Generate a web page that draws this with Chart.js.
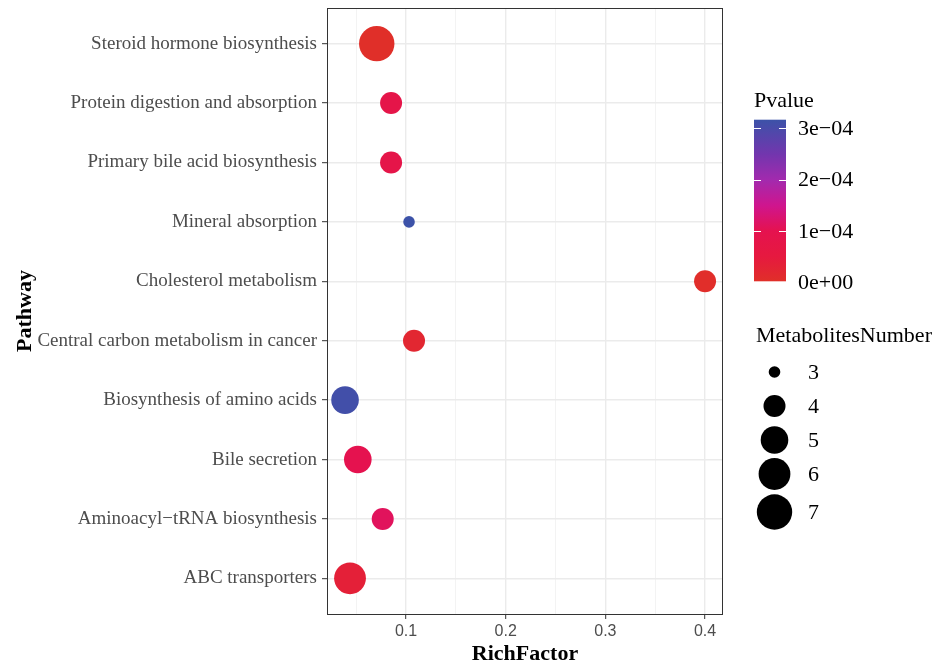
<!DOCTYPE html>
<html>
<head>
<meta charset="utf-8">
<script src="https://cdn.jsdelivr.net/npm/chart.js@4.4.0/dist/chart.umd.min.js"></script>
<style>
  html, body { margin: 0; padding: 0; background: #fff; }
  #wrap { width: 940px; height: 666px; }
</style>
</head>
<body>
<div id="wrap"><canvas id="chart" width="940" height="666"></canvas></div>
<script>
// Dados (de baixo para cima)
const pathways = [
  "ABC transporters",
  "Aminoacyl\u2212tRNA biosynthesis",
  "Bile secretion",
  "Biosynthesis of amino acids",
  "Central carbon metabolism in cancer",
  "Cholesterol metabolism",
  "Mineral absorption",
  "Primary bile acid biosynthesis",
  "Protein digestion and absorption",
  "Steroid hormone biosynthesis"
];
const richFactor = [0.0438, 0.0766, 0.0516, 0.0388, 0.108, 0.400, 0.103, 0.085, 0.085, 0.0706];
const metabolitesNumber = [6, 4, 5, 5, 4, 4, 3, 4, 4, 7];
const pvalue = [0.35e-4, 1.1e-4, 1.0e-4, 3.1e-4, 0.2e-4, 0.05e-4, 3.17e-4, 0.8e-4, 0.8e-4, 0.02e-4];

const xTicks = [0.05, 0.1, 0.15, 0.2, 0.25, 0.3, 0.35, 0.4];
const pTicks = [0, 1e-4, 2e-4, 3e-4];
const pTickLabels = ["0e+00", "1e\u221204", "2e\u221204", "3e\u221204"];
const sizeBreaks = [3, 4, 5, 6, 7];

// Escala de cor do Pvalue
const pStops = [0, 0.5e-4, 1e-4, 1.5e-4, 2e-4, 2.5e-4, 3.17e-4];
const pColors = ["#E03028", "#E6193F", "#E5124F", "#CF158E", "#A22AAE", "#7236AE", "#3C52A8"];
const pMax = 3.17e-4;

// Escala de tamanho
const sizeRadius = { 3: 5.8, 4: 11, 5: 13.8, 6: 15.9, 7: 17.7 };

function hexToRgb(h) {
  const n = parseInt(h.slice(1), 16);
  return [(n >> 16) & 255, (n >> 8) & 255, n & 255];
}

function pColor(v) {
  for (let i = 0; i < pStops.length - 1; i++) {
    if (v <= pStops[i + 1]) {
      const t = (v - pStops[i]) / (pStops[i + 1] - pStops[i]);
      const a = hexToRgb(pColors[i]), b = hexToRgb(pColors[i + 1]);
      const c = a.map((x, k) => Math.round(x + (b[k] - x) * t));
      return `rgb(${c[0]},${c[1]},${c[2]})`;
    }
  }
  return pColors[pColors.length - 1];
}

const isMajor = v => Math.abs(v * 10 - Math.round(v * 10)) < 1e-6;

const points = pathways.map((p, i) => ({
  x: richFactor[i],
  y: i + 1,
  r: sizeRadius[metabolitesNumber[i]]
}));

// Borda do painel
const panelBorder = {
  id: "panelBorder",
  afterDraw(chart) {
    const { ctx, chartArea: a } = chart;
    ctx.save();
    ctx.strokeStyle = "#333333";
    ctx.lineWidth = 1;
    ctx.strokeRect(a.left + 0.5, a.top + 0.5, a.right - a.left - 1, a.bottom - a.top);
    ctx.restore();
  }
};

// Legendas
const legends = {
  id: "legends",
  afterDraw(chart) {
    const ctx = chart.ctx;
    ctx.save();
    ctx.fillStyle = "#000";
    ctx.font = "22px 'Liberation Serif'";
    ctx.textBaseline = "alphabetic";
    ctx.textAlign = "left";
    ctx.fillText("Pvalue", 754, 107);

    // barra de cor
    const barL = 754, barR = 786, barTop = 119.7, barBot = 282.3;
    const yOf = v => barBot - (v / pMax) * (barBot - barTop);
    const g = ctx.createLinearGradient(0, barBot, 0, barTop);
    pStops.forEach((s, i) => g.addColorStop(s / pMax, pColors[i]));
    ctx.fillStyle = g;
    ctx.fillRect(barL, barTop, barR - barL, barBot - barTop - 1);

    ctx.strokeStyle = "#fff";
    ctx.lineWidth = 1;
    ctx.textBaseline = "middle";
    ctx.fillStyle = "#000";
    pTicks.forEach((v, i) => {
      const y = Math.round(yOf(v)) + 0.5;
      ctx.beginPath();
      ctx.moveTo(barL, y); ctx.lineTo(barL + 7, y);
      ctx.moveTo(barR - 7, y); ctx.lineTo(barR, y);
      ctx.stroke();
      ctx.fillText(pTickLabels[i], 798, yOf(v) + 1);
    });

    // tamanhos
    ctx.textBaseline = "alphabetic";
    ctx.fillText("MetabolitesNumber", 756, 342);
    const rowY = [372, 406, 440, 474, 512];
    ctx.textBaseline = "middle";
    sizeBreaks.forEach((s, i) => {
      ctx.fillStyle = "#000";
      ctx.beginPath();
      ctx.arc(774.5, rowY[i], sizeRadius[s], 0, Math.PI * 2);
      ctx.fill();
      ctx.fillText(String(s), 808, rowY[i] + 1);
    });
    ctx.restore();
  }
};

const ctx = document.getElementById("chart").getContext("2d");

new Chart(ctx, {
  type: "bubble",
  data: {
    datasets: [{
      data: points,
      backgroundColor: pvalue.map(pColor),
      borderWidth: 0,
      hoverBorderWidth: 0,
      hoverRadius: 0,
      clip: false
    }]
  },
  options: {
    responsive: false,
    animation: false,
    events: [],
    layout: { autoPadding: false, padding: { top: 8, right: 217, bottom: 0, left: 0 } },
    plugins: {
      legend: { display: false },
      tooltip: { enabled: false }
    },
    scales: {
      x: {
        type: "linear",
        min: 0.0207,
        max: 0.418,
        afterBuildTicks: s => { s.ticks = xTicks.map(v => ({ value: v })); },
        afterFit: s => { s.height = 52; s.paddingLeft = 0; s.paddingRight = 0; },
        border: { display: false },
        grid: {
          color: c => isMajor(c.tick.value) ? "#EBEBEB" : "#F2F2F2",
          lineWidth: c => isMajor(c.tick.value) ? 1.4 : 0.9,
          tickColor: c => isMajor(c.tick.value) ? "#333333" : "rgba(0,0,0,0)",
          tickLength: 5,
          tickWidth: 1
        },
        ticks: {
          autoSkip: false,
          maxRotation: 0,
          padding: 3,
          color: "#4D4D4D",
          font: { family: "'Liberation Sans'", size: 16 },
          callback: v => isMajor(v) ? v.toFixed(1) : ""
        },
        title: {
          display: true,
          text: "RichFactor",
          color: "#000",
          font: { family: "'Liberation Serif'", size: 22, weight: "bold", lineHeight: 1 },
          padding: { top: 0, bottom: 1 }
        }
      },
      y: {
        type: "linear",
        min: 0.4,
        max: 10.6,
        afterBuildTicks: s => { s.ticks = pathways.map((p, i) => ({ value: i + 1 })); },
        afterFit: s => { s.width = 327; s.paddingTop = 0; s.paddingBottom = 0; },
        border: { display: false },
        grid: {
          color: "#EBEBEB",
          lineWidth: 1.4,
          tickColor: "#333333",
          tickLength: 5,
          tickWidth: 1
        },
        ticks: {
          autoSkip: false,
          padding: 5,
          color: "#4D4D4D",
          font: { family: "'Liberation Serif'", size: 19 },
          callback: v => pathways[Math.round(v) - 1]
        },
        title: {
          display: true,
          text: "Pathway",
          color: "#000",
          font: { family: "'Liberation Serif'", size: 22, weight: "bold", lineHeight: 1 },
          padding: { top: 14, bottom: 0 }
        }
      }
    }
  },
  plugins: [panelBorder, legends]
});
</script>
</body>
</html>
